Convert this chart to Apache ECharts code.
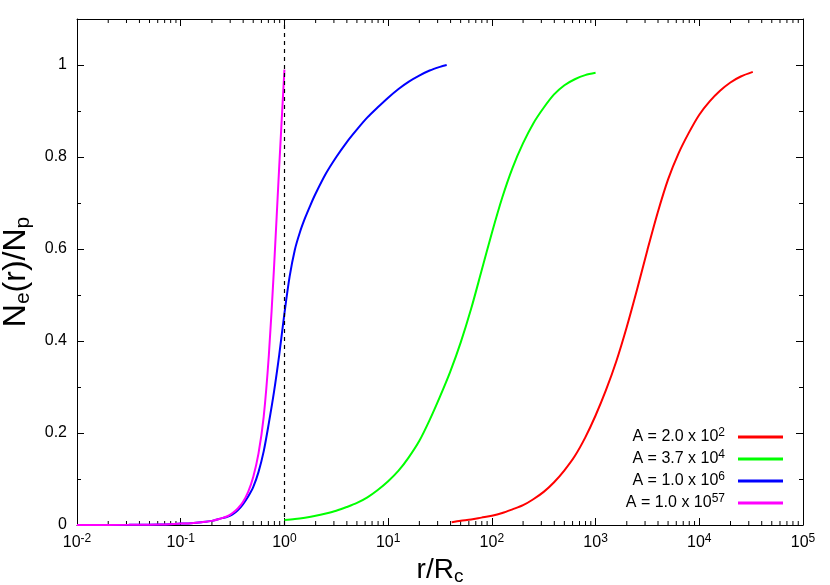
<!DOCTYPE html>
<html>
<head>
<meta charset="utf-8">
<title>Ne(r)/Np</title>
<script src="https://cdn.jsdelivr.net/npm/echarts@6/dist/echarts.min.js"></script>
<style>
  html, body { margin: 0; padding: 0; background: #fff; }
  #chart { width: 830px; height: 585px; }
</style>
</head>
<body>
<div id="chart"></div>
<script>
// data (r/Rc, Ne/Np)
const redR = [41, 50.1, 63.1, 79.4, 100, 126, 158, 200, 251, 316, 398, 501, 631, 794, 1000, 1259, 1585, 1995,
  2512, 3162, 3981, 5012, 6310, 7943, 10000, 12589, 15849, 19953, 25119, 32800];
const redN = [0.006, 0.009, 0.012, 0.016, 0.02, 0.026, 0.034, 0.043, 0.056, 0.072, 0.093, 0.119, 0.15, 0.19, 0.238, 0.293, 0.356, 0.43,
  0.512, 0.598, 0.68, 0.752, 0.808, 0.853, 0.892, 0.921, 0.944, 0.962, 0.975, 0.985];

const greenR = [1, 1.26, 1.58, 2.0, 2.51, 3.16, 3.98, 5.01, 6.31, 7.94, 10, 12.6, 15.8, 20, 25.1, 31.6, 39.8, 50.1, 63.1, 79.4,
  100, 126, 158, 200, 251, 316, 398, 501, 631, 794, 1000];
const greenN = [0.011, 0.013, 0.016, 0.02, 0.025, 0.031, 0.039, 0.048, 0.06, 0.076, 0.095, 0.118, 0.147, 0.183, 0.228, 0.279, 0.334, 0.397, 0.47, 0.552,
  0.635, 0.712, 0.776, 0.83, 0.873, 0.907, 0.936, 0.956, 0.969, 0.978, 0.983];

const blueR = [0.01, 0.0316, 0.0631, 0.1, 0.126, 0.158, 0.2, 0.251, 0.282, 0.316, 0.355, 0.398, 0.447, 0.501, 0.562, 0.631, 0.708, 0.794, 0.891, 1,
  1.122, 1.259, 1.413, 1.585, 1.778, 1.995, 2.512, 3.162, 3.981, 5.012, 6.31, 7.943, 10, 12.59, 15.85, 19.95, 25.12, 31.62, 36.7];
const blueN = [0, 0.0003, 0.001, 0.003, 0.004, 0.006, 0.009, 0.015, 0.018, 0.023, 0.032, 0.045, 0.062, 0.083, 0.115, 0.16, 0.222, 0.29, 0.37, 0.46,
  0.54, 0.598, 0.637, 0.668, 0.695, 0.72, 0.764, 0.8, 0.832, 0.86, 0.886, 0.908, 0.929, 0.948, 0.964, 0.977, 0.988, 0.996, 1.0];

const magentaR = [0.01, 0.0316, 0.0631, 0.1, 0.126, 0.158, 0.2, 0.251, 0.282, 0.316, 0.355, 0.398, 0.447, 0.501, 0.562, 0.631, 0.708, 0.794, 0.891, 1];
const magentaN = [0, 0.0003, 0.001, 0.003, 0.004, 0.006, 0.009, 0.015, 0.019, 0.026, 0.036, 0.05, 0.072, 0.105, 0.155, 0.235, 0.37, 0.56, 0.78, 0.99];

const legendMant = ['2.0', '3.7', '1.0', '1.0'];
const legendExp = ['2', '4', '6', '57'];
const colors = ['#ff0000', '#00ff00', '#0000ff', '#ff00ff'];

const xTickExp = ['-2', '-1', '0', '1', '2', '3', '4', '5'];
const markR = 1; // dashed line at r = Rc

const FONT = '"Liberation Sans", Arial, Helvetica, sans-serif';

// x minor ticks 2..9 in each decade
const minorX = [];
for (let k = -2; k < 5; k++) {
  for (let m = 2; m <= 9; m++) minorX.push(m * Math.pow(10, k));
}

const zip = (xs, ys) => xs.map((x, i) => [x, ys[i]]);
const names = legendMant.map((m, i) => 'A = ' + m + ' x 10^' + legendExp[i]);
const curves = [zip(redR, redN), zip(greenR, greenN), zip(blueR, blueN), zip(magentaR, magentaN)];

const supRich = {
  b: { fontFamily: FONT, fontSize: 16, color: '#000', lineHeight: 20 },
  s: { fontFamily: FONT, fontSize: 12, color: '#000', lineHeight: 9, verticalAlign: 'top' }
};

const lineSeries = curves.map((d, i) => ({
  name: names[i],
  type: 'line',
  data: d,
  showSymbol: false,
  symbol: 'none',
  smooth: 0.3,
  lineStyle: { color: colors[i], width: 2 },
  itemStyle: { color: colors[i] },
  z: 3
}));

lineSeries[0].markLine = {
  silent: true,
  symbol: ['none', 'none'],
  label: { show: false },
  lineStyle: { color: '#000', type: [4, 4], width: 1.2 },
  data: [{ xAxis: markR }]
};

const minorSeries = {
  type: 'custom',
  silent: true,
  data: minorX.map(v => [v, 0]),
  encode: { x: 0, y: 1 },
  renderItem: (params, api) => {
    const v = api.value(0);
    const b = api.coord([v, 0]);
    const t = api.coord([v, 1.1]);
    const style = { stroke: '#000', lineWidth: 1 };
    return {
      type: 'group',
      children: [
        { type: 'line', shape: { x1: b[0], y1: b[1], x2: b[0], y2: b[1] - 4 }, style },
        { type: 'line', shape: { x1: t[0], y1: t[1], x2: t[0], y2: t[1] + 4 }, style }
      ]
    };
  },
  z: 2
};

const axisLine = { show: true, onZero: false, lineStyle: { color: '#000', width: 1 } };

const logAxis = (pos) => ({
  type: 'log',
  logBase: 10,
  min: 0.01,
  max: 1e5,
  splitNumber: 7,
  position: pos,
  axisLine,
  axisTick: { show: true, inside: true, length: 7, lineStyle: { color: '#000' } },
  axisLabel: { show: false },
  splitLine: { show: false }
});

const valAxis = (pos, interval, len) => ({
  type: 'value',
  min: 0,
  max: 1.1,
  interval,
  position: pos,
  axisLine: len > 5 ? axisLine : { show: false, onZero: false },
  axisTick: { show: true, inside: true, length: len, lineStyle: { color: '#000' } },
  axisLabel: { show: false },
  splitLine: { show: false }
});

const xBottom = logAxis('bottom');
xBottom.axisLabel = {
  show: true,
  margin: 8,
  formatter: v => {
    const e = xTickExp[Math.round(Math.log10(v)) + 2];
    return '{b|10}{s|' + e + '}';
  },
  rich: supRich
};
xBottom.name = '{n|r/R}{sub|c}';
xBottom.nameLocation = 'middle';
xBottom.nameGap = 22;
xBottom.nameTextStyle = {
  rich: {
    n: { fontFamily: FONT, fontSize: 28, color: '#000', lineHeight: 32 },
    sub: { fontFamily: FONT, fontSize: 19, color: '#000', lineHeight: 19, verticalAlign: 'bottom' }
  }
};

const yLeft = valAxis('left', 0.2, 7);
yLeft.axisLabel = {
  show: true,
  margin: 10,
  fontFamily: FONT,
  fontSize: 16,
  color: '#000',
  formatter: v => (v > 1.05 ? '' : String(+v.toFixed(1)))
};
yLeft.name = '{n|N}{sub|e}{n|(r)/N}{sub|p}';
yLeft.nameLocation = 'middle';
yLeft.nameRotate = 90;
yLeft.nameGap = 27;
yLeft.nameTextStyle = {
  rich: {
    n: { fontFamily: FONT, fontSize: 32, color: '#000', lineHeight: 36 },
    sub: { fontFamily: FONT, fontSize: 21, color: '#000', lineHeight: 21, verticalAlign: 'bottom' }
  }
};

const chart = echarts.init(document.getElementById('chart'));
chart.setOption({
  animation: false,
  backgroundColor: '#fff',
  grid: { left: 77, right: 27, top: 19, bottom: 60, containLabel: false, outerBoundsMode: 'none' },
  legend: {
    orient: 'vertical',
    right: 42,
    top: 422,
    align: 'right',
    itemWidth: 45,
    itemHeight: 3,
    itemGap: 4,
    data: names.map(n => ({ name: n, icon: 'rect' })),
    formatter: name => {
      const i = names.indexOf(name);
      return '{b|A = ' + legendMant[i] + ' x 10}{s|' + legendExp[i] + '}';
    },
    textStyle: { padding: [0, 8, 0, 0], rich: supRich }
  },
  xAxis: [xBottom, logAxis('top')],
  yAxis: [yLeft, valAxis('left', 0.1, 4), valAxis('right', 0.2, 7), valAxis('right', 0.1, 4)],
  series: [minorSeries].concat(lineSeries)
});
</script>
</body>
</html>
